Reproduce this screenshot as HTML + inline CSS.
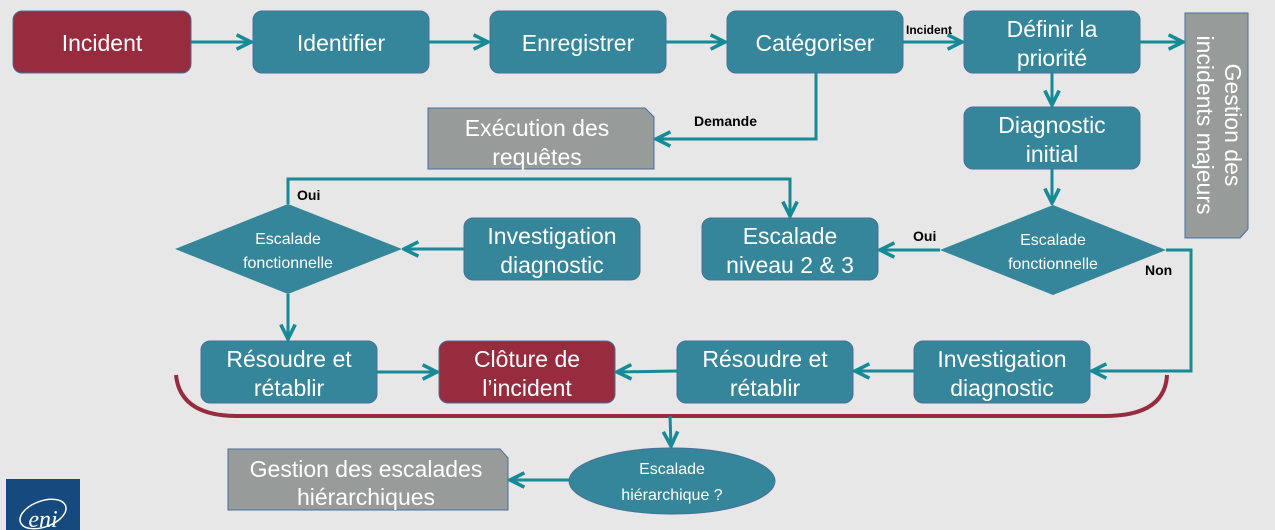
<!DOCTYPE html>
<html><head><meta charset="utf-8"><style>
html,body{margin:0;padding:0;background:#e6e7e6;}
svg{display:block;}
.t{font-family:"Liberation Sans",sans-serif;fill:#fff;font-size:23px;text-anchor:middle;}
.s{font-family:"Liberation Sans",sans-serif;fill:#fff;font-size:16px;text-anchor:middle;}
.b{font-family:"Liberation Sans",sans-serif;fill:#000;font-size:14px;font-weight:bold;}
.box{fill:#35869a;stroke:#4a6f9a;stroke-width:1;}
.red{fill:#972c3e;stroke:#4a6f9a;stroke-width:1;}
.gray{fill:#979b9a;stroke:#4a6f9a;stroke-width:1;}
.ln{stroke:#168a96;stroke-width:3;fill:none;}
</style></head><body>
<svg width="1275" height="530" viewBox="0 0 1275 530">
<defs><marker id="a" viewBox="0 0 10 10" refX="9" refY="5" markerWidth="6" markerHeight="6" orient="auto"><path d="M1,1 L9,5 L1,9" fill="none" stroke="#168a96" stroke-width="2"/></marker></defs>
<rect x="0" y="0" width="1275" height="530" fill="#e6e7e6"/>
<!-- row 1 -->
<rect class="red" x="13" y="11" width="178" height="62" rx="9"/><text class="t" x="102" y="51">Incident</text>
<rect class="box" x="253" y="11" width="176" height="62" rx="9"/><text class="t" x="341" y="51">Identifier</text>
<rect class="box" x="490" y="11" width="176" height="62" rx="9"/><text class="t" x="578" y="51">Enregistrer</text>
<rect class="box" x="727" y="11" width="176" height="62" rx="9"/><text class="t" x="815" y="51">Catégoriser</text>
<rect class="box" x="964" y="11" width="176" height="62" rx="9"/><text class="t" x="1052" y="37">Définir la</text><text class="t" x="1052" y="66">priorité</text>
<path class="gray" d="M1185,13 H1248 V229 L1240,238 H1185 Z"/>
<text class="t" transform="translate(1225,125) rotate(90)">Gestion des</text>
<text class="t" transform="translate(1197,125) rotate(90)">incidents majeurs</text>
<line class="ln" x1="191" y1="42" x2="251" y2="42" marker-end="url(#a)"/>
<line class="ln" x1="429" y1="42" x2="488" y2="42" marker-end="url(#a)"/>
<line class="ln" x1="666" y1="42" x2="725" y2="42" marker-end="url(#a)"/>
<line class="ln" x1="903" y1="42" x2="962" y2="42" marker-end="url(#a)"/>
<text class="b" x="906" y="34" style="font-size:12px">Incident</text>
<line class="ln" x1="1140" y1="42" x2="1183" y2="42" marker-end="url(#a)"/>
<!-- row 2 -->
<path class="gray" d="M428,108 H645 L654,117 V169 H428 Z"/>
<text class="t" x="537" y="136">Exécution des</text><text class="t" x="537" y="165">requêtes</text>
<path class="ln" d="M816,73 V139 H656" marker-end="url(#a)"/>
<text class="b" x="694" y="126">Demande</text>
<rect class="box" x="964" y="107" width="176" height="62" rx="9"/><text class="t" x="1052" y="133">Diagnostic</text><text class="t" x="1052" y="162">initial</text>
<line class="ln" x1="1052" y1="73" x2="1052" y2="105" marker-end="url(#a)"/>
<line class="ln" x1="1052" y1="169" x2="1052" y2="203" marker-end="url(#a)"/>
<polygon points="1053,205 1166,250 1053,295 940,250" fill="#35869a"/>
<text class="s" x="1053" y="245">Escalade</text><text class="s" x="1053" y="269">fonctionnelle</text>
<rect class="box" x="702" y="218" width="176" height="62" rx="9"/><text class="t" x="790" y="244">Escalade</text><text class="t" x="790" y="273">niveau 2 &amp; 3</text>
<line class="ln" x1="940" y1="250" x2="880" y2="250" marker-end="url(#a)"/>
<text class="b" x="913" y="241">Oui</text>
<rect class="box" x="464" y="218" width="176" height="62" rx="9"/><text class="t" x="552" y="244">Investigation</text><text class="t" x="552" y="273">diagnostic</text>
<polygon points="288,204 402,249 288,294 175,249" fill="#35869a"/>
<text class="s" x="288" y="244">Escalade</text><text class="s" x="288" y="268">fonctionnelle</text>
<line class="ln" x1="464" y1="249" x2="404" y2="249" marker-end="url(#a)"/>
<path class="ln" d="M288,204 V179 H790 V216" marker-end="url(#a)"/>
<text class="b" x="297" y="200">Oui</text>
<path class="ln" d="M1166,250 H1191 V371 H1092" marker-end="url(#a)"/>
<text class="b" x="1145" y="275">Non</text>
<!-- row 3 -->
<rect class="box" x="201" y="341" width="176" height="62" rx="9"/><text class="t" x="289" y="367">Résoudre et</text><text class="t" x="289" y="396">rétablir</text>
<rect class="red" x="439" y="341" width="176" height="62" rx="9"/><text class="t" x="527" y="367">Clôture de</text><text class="t" x="527" y="396">l’incident</text>
<rect class="box" x="677" y="341" width="176" height="62" rx="9"/><text class="t" x="765" y="367">Résoudre et</text><text class="t" x="765" y="396">rétablir</text>
<rect class="box" x="914" y="341" width="176" height="62" rx="9"/><text class="t" x="1002" y="367">Investigation</text><text class="t" x="1002" y="396">diagnostic</text>
<line class="ln" x1="288" y1="294" x2="288" y2="339" marker-end="url(#a)"/>
<line class="ln" x1="377" y1="372" x2="437" y2="372" marker-end="url(#a)"/>
<line class="ln" x1="677" y1="371" x2="617" y2="372" marker-end="url(#a)"/>
<line class="ln" x1="914" y1="371" x2="855" y2="371" marker-end="url(#a)"/>
<path d="M176,375 Q180,415 235,416 H1105 Q1165,416 1167,375" fill="none" stroke="#972c3e" stroke-width="4"/>
<line class="ln" x1="670" y1="416" x2="671" y2="446" marker-end="url(#a)"/>
<ellipse cx="672" cy="481" rx="103" ry="33" fill="#35869a" stroke="#4a6f9a"/>
<text class="s" x="672" y="474">Escalade</text><text class="s" x="672" y="500">hiérarchique ?</text>
<path class="gray" d="M228,449 H500 L508,458 V510 H228 Z"/>
<text class="t" x="366" y="477">Gestion des escalades</text><text class="t" x="366" y="505">hiérarchiques</text>
<line class="ln" x1="569" y1="480" x2="510" y2="480" marker-end="url(#a)"/>
<rect x="6" y="479" width="74" height="51" fill="#164a7f"/>
<ellipse cx="43" cy="514" rx="24" ry="13" fill="none" stroke="#fff" stroke-width="1.5" transform="rotate(-20 43 514)"/>
<text x="43" y="527" style="font-family:'Liberation Serif',serif;font-style:italic;font-size:24px;fill:#fff;text-anchor:middle">eni</text>
</svg>
</body></html>
